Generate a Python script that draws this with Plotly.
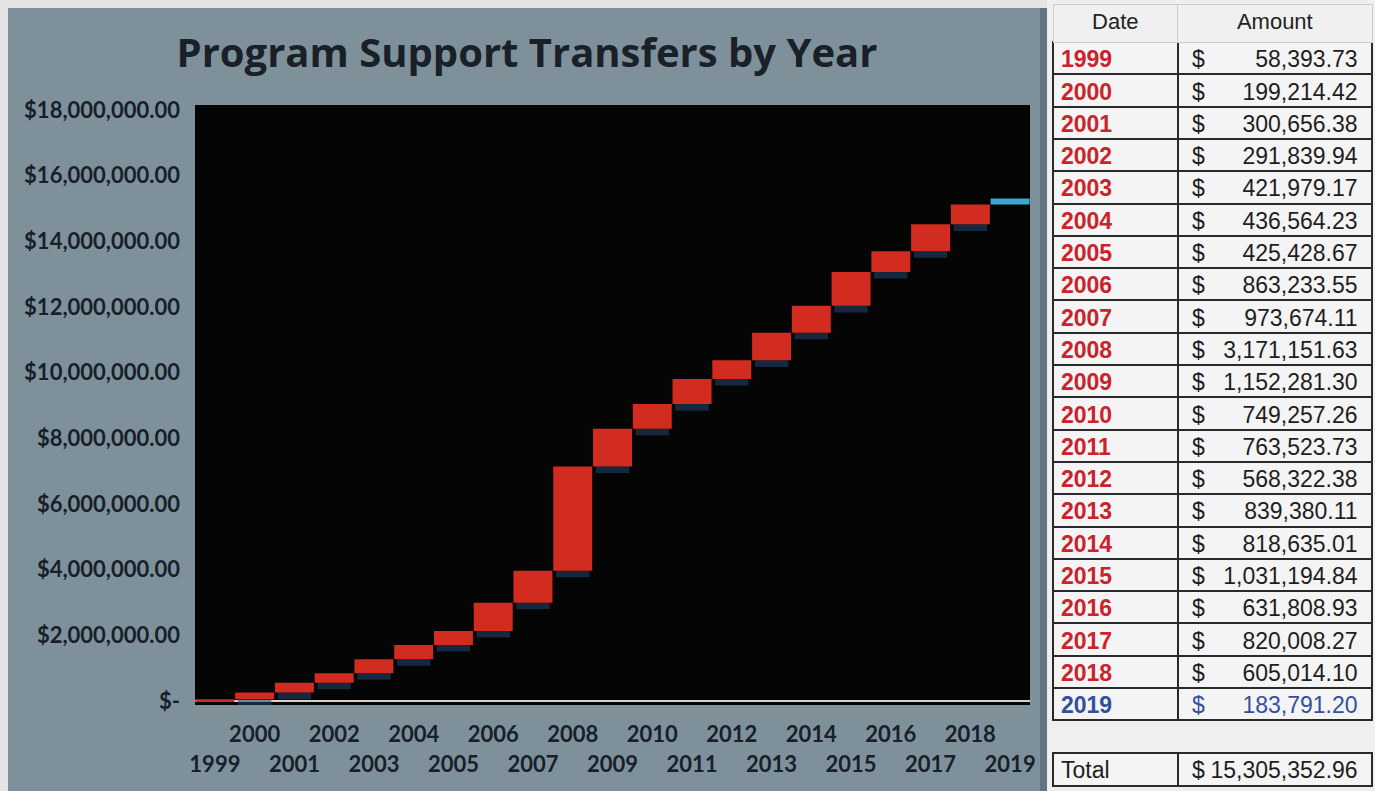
import numpy as np
import plotly.graph_objects as go

# ---------------- data ----------------
years = [1999, 2000, 2001, 2002, 2003, 2004, 2005, 2006, 2007, 2008, 2009,
         2010, 2011, 2012, 2013, 2014, 2015, 2016, 2017, 2018, 2019]
amounts = [58393.73, 199214.42, 300656.38, 291839.94, 421979.17, 436564.23,
           425428.67, 863233.55, 973674.11, 3171151.63, 1152281.30, 749257.26,
           763523.73, 568322.38, 839380.11, 818635.01, 1031194.84, 631808.93,
           820008.27, 605014.10, 183791.20]
status = ["closed"] * 20 + ["current"]
y_tick_values = [0, 2e6, 4e6, 6e6, 8e6, 10e6, 12e6, 14e6, 16e6, 18e6]
y_tick_labels = ["$-", "$2,000,000.00", "$4,000,000.00", "$6,000,000.00",
                 "$8,000,000.00", "$10,000,000.00", "$12,000,000.00",
                 "$14,000,000.00", "$16,000,000.00", "$18,000,000.00"]
title_text = "Program Support Transfers by Year"
header_labels = ["Date", "Amount"]
total_label = "Total"

# ---------------- styles ----------------
W, H = 1375, 791
def px(x):
    return x / W
def py(y):
    return 1 - y / H

RED = "#d22b1f"
CYAN = "#3aa9d2"
SHADOW = "rgba(34,70,110,0.55)"
SLATE = "#7e919b"
AXIS_FONT = dict(family="Lato", size=22, color="#17202a", weight="bold")
TABLE_FONT = "Liberation Sans"
YEAR_RED = "#c9232b"
YEAR_BLUE = "#34509c"

amt = np.array(amounts)
ends = np.cumsum(amt)
starts = ends - amt
total = amt.sum()

bar_colors = [RED if s == "closed" else CYAN for s in status]

fig = go.Figure()

# shadow under each red block
SH = 200000
sh_x = [yr for yr, s, st in zip(years, status, starts) if s == "closed" and st > 0]
sh_base = [st - SH for s, st in zip(status, starts) if s == "closed" and st > 0]
fig.add_bar(x=sh_x, y=[SH] * len(sh_x), base=sh_base, width=0.84,
            marker=dict(color=SHADOW, line=dict(width=0)),
            hoverinfo="skip", showlegend=False)

fig.add_bar(x=years, y=amt, base=starts, width=0.98,
            marker=dict(color=bar_colors, line=dict(width=0)),
            showlegend=False, name="Transfers")

# invisible helper so the second (odd-year) label axis exists
fig.add_scatter(x=years, y=ends, xaxis="x2", mode="markers",
                marker=dict(opacity=0), hoverinfo="skip", showlegend=False)

even_years = years[1::2]
odd_years = years[0::2]
xr = [years[0] - 0.5, years[-1] + 0.5]

fig.update_layout(
    width=W, height=H, autosize=False,
    margin=dict(l=0, r=0, t=0, b=0, pad=0),
    paper_bgcolor=SLATE,
    plot_bgcolor="#050505",
    barmode="overlay",
    title=dict(text=title_text, x=px(527), y=py(53), xanchor="center", yanchor="middle",
               font=dict(family="Open Sans", size=40, color="#1a2028", weight="bold")),
    xaxis=dict(domain=[px(195), px(1030)], range=xr, tickmode="array",
               tickvals=even_years, ticktext=[str(v) for v in even_years],
               showgrid=False, zeroline=False, showline=False, ticks="", automargin=False,
               tickfont=AXIS_FONT, ticklabelstandoff=14),
    xaxis2=dict(overlaying="x", anchor="y", side="bottom", range=xr, tickmode="array",
                tickvals=odd_years, ticktext=[str(v) for v in odd_years],
                showgrid=False, zeroline=False, showline=False, ticks="", automargin=False,
                tickfont=AXIS_FONT, ticklabelstandoff=44),
    yaxis=dict(domain=[py(705), py(105)], range=[-0.12e6, 18.15e6], tickmode="array",
               tickvals=y_tick_values, ticktext=y_tick_labels, automargin=False,
               showgrid=False, zeroline=True, zerolinecolor="#d8d0c6", zerolinewidth=2,
               showline=False, ticks="", tickfont=AXIS_FONT, ticklabelstandoff=14),
    shapes=[
        dict(type="rect", xref="paper", yref="paper", x0=px(1047), x1=1, y0=0, y1=1,
             fillcolor="#efefef", line=dict(width=0), layer="below"),
        dict(type="rect", xref="paper", yref="paper", x0=px(1040), x1=px(1047), y0=0, y1=py(8),
             fillcolor="#61757f", line=dict(width=0), layer="below"),
        dict(type="rect", xref="paper", yref="paper", x0=0, x1=px(8), y0=0, y1=1,
             fillcolor="#e4e4e4", line=dict(width=0), layer="below"),
        dict(type="rect", xref="paper", yref="paper", x0=0, x1=px(1047), y0=py(8), y1=1,
             fillcolor="#e4e4e4", line=dict(width=0), layer="below"),
    ],
)

# ---------------- table ----------------
NB = "\u00a0"
year_cells = [str(yr) for yr in years]
amount_cells = [f"{a:,.2f}{NB}" for a in amounts]
dollar_cells = [f"{NB}$" for _ in amounts]
year_colors = [YEAR_BLUE if s == "current" else YEAR_RED for s in status]
amount_colors = [YEAR_BLUE if s == "current" else "#1e1e1e" for s in status]

tbl_x = [px(1053), px(1373)]
tbl_y = [py(728), py(4)]
colw = [125, 195]
ROW_H = 32.3
HEAD_H = 38
TSIZE = 23

fig.add_trace(go.Table(
    domain=dict(x=tbl_x, y=tbl_y), columnwidth=colw,
    header=dict(values=header_labels, height=HEAD_H, align="center",
                fill=dict(color="#f0f0f0"), line=dict(color="#cccccc", width=1),
                font=dict(family=TABLE_FONT, size=22, color="#222222")),
    cells=dict(values=[year_cells, amount_cells], height=ROW_H, align=["left", "right"],
               fill=dict(color="#f4f4f4"), line=dict(color="#2a2a2a", width=2),
               font=dict(family=TABLE_FONT, size=TSIZE, color=[year_colors, amount_colors],
                         weight=["bold", "normal"])),
))
fig.add_trace(go.Table(
    domain=dict(x=tbl_x, y=tbl_y), columnwidth=colw,
    header=dict(values=["", ""], height=HEAD_H,
                fill=dict(color="rgba(0,0,0,0)"), line=dict(color="rgba(0,0,0,0)", width=0),
                font=dict(family=TABLE_FONT, size=22)),
    cells=dict(values=[[""] * len(years), dollar_cells], height=ROW_H, align="left",
               fill=dict(color="rgba(0,0,0,0)"), line=dict(color="rgba(0,0,0,0)", width=0),
               font=dict(family=TABLE_FONT, size=TSIZE, color=["#000000", amount_colors])),
))

tot_y = [py(790), py(753)]
fig.add_trace(go.Table(
    domain=dict(x=tbl_x, y=tot_y), columnwidth=colw,
    header=dict(values=[total_label, f"{total:,.2f}{NB}"], height=33, align=["left", "right"],
                fill=dict(color="#f4f4f4"), line=dict(color="#2a2a2a", width=2),
                font=dict(family=TABLE_FONT, size=TSIZE, color="#1e1e1e")),
))
fig.add_trace(go.Table(
    domain=dict(x=tbl_x, y=tot_y), columnwidth=colw,
    header=dict(values=["", f"{NB}$"], height=33, align="left",
                fill=dict(color="rgba(0,0,0,0)"), line=dict(color="rgba(0,0,0,0)", width=0),
                font=dict(family=TABLE_FONT, size=TSIZE, color="#1e1e1e")),
))

fig.write_html("out.html", config={"displayModeBar": False},
               post_script="document.body.style.margin='0';document.body.style.overflow='hidden';")
